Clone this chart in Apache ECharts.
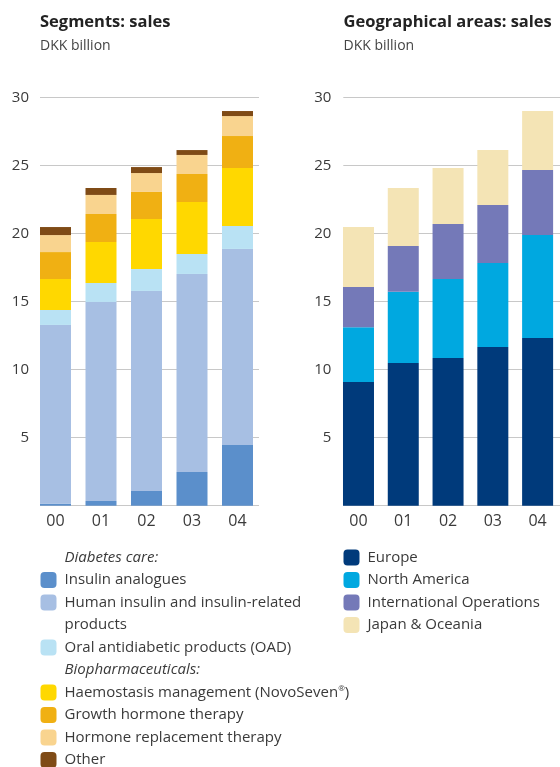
<!DOCTYPE html>
<html>
<head>
<meta charset="utf-8">
<script src="https://cdn.jsdelivr.net/npm/echarts@6/dist/echarts.min.js"></script>
<style>
html,body{margin:0;padding:0;background:#fff;}
#chart{width:560px;height:767px;}
</style>
</head>
<body>
<div id="chart"></div>
<script>
// ---- data ----
const years = ['00', '01', '02', '03', '04'];
const yTicks = [0, 5, 10, 15, 20, 25, 30];

// Segments: sales (DKK billion)
const insulinAnalogues = [0.15, 0.35, 1.08, 2.48, 4.46];
const humanInsulin     = [13.14, 14.63, 14.71, 14.56, 14.42];
const oad              = [1.10, 1.40, 1.61, 1.47, 1.69];
const haemostasis      = [2.28, 3.01, 3.68, 3.82, 4.26];
const growthHormone    = [1.98, 2.06, 1.99, 2.06, 2.35];
const hrt              = [1.25, 1.40, 1.39, 1.40, 1.47];
const otherSales       = [0.59, 0.51, 0.44, 0.36, 0.37];

// Geographical areas: sales (DKK billion)
const europe       = [9.10, 10.49, 10.86, 11.67, 12.33];
const northAmerica = [4.03, 5.25, 5.81, 6.18, 7.57];
const intlOps      = [2.95, 3.36, 4.04, 4.26, 4.78];
const japanOceania = [4.41, 4.26, 4.12, 4.04, 4.34];

const segmentNames = [
  'Insulin analogues',
  'Human insulin and insulin-related products',
  'Oral antidiabetic products (OAD)',
  'Haemostasis management (NovoSeven®)',
  'Growth hormone therapy',
  'Hormone replacement therapy',
  'Other'
];
const segmentValues = [insulinAnalogues, humanInsulin, oad, haemostasis, growthHormone, hrt, otherSales];
const geoNames = ['Europe', 'North America', 'International Operations', 'Japan & Oceania'];
const geoValues = [europe, northAmerica, intlOps, japanOceania];

// ---- styles ----
const FONT = '"Open Sans", "Noto Sans", sans-serif';
const segColors = ['#5b8fcb', '#a7bfe3', '#b9e2f4', '#ffd800', '#f0b013', '#f9d48f', '#7f4b16'];
const geoColors = ['#003a7b', '#00a8e0', '#7479b8', '#f4e4b5'];
const TXT = '#3a3a3a';
const GRID_TOP = 97.7, GRID_H = 408;
const LEG_FS = 15;

const chart = echarts.init(document.getElementById('chart'), null, {renderer: 'canvas'});

function gridAxisY(idx, margin) {
  return {
    gridIndex: idx, type: 'value', min: 0, max: 30, interval: 5,
    axisLine: {show: false}, axisTick: {show: false},
    axisLabel: {show: true, margin: margin, fontFamily: FONT, fontSize: 15, color: TXT,
      formatter: v => (v === 0 ? '' : String(v))},
    splitLine: {show: true, lineStyle: {color: '#c8c8c8', width: 1.2}}
  };
}
function barAxisY(idx) {
  return {gridIndex: idx, type: 'value', min: 0, max: 30, interval: 5, show: false, splitLine: {show: false}};
}
function barAxisX(idx) {
  return {
    gridIndex: idx, type: 'category', data: years,
    axisLine: {show: false}, axisTick: {show: false},
    axisLabel: {margin: 8, fontFamily: FONT, fontSize: 16, color: TXT}
  };
}

const rowY = i => 557.5 + i * 22.5;
const legendText = {fontFamily: FONT, fontSize: LEG_FS, color: TXT, lineHeight: 16, padding: [0, 0, 0, 3],
  rich: {
    t: {fontFamily: FONT, fontSize: LEG_FS, color: TXT, lineHeight: 16},
    s: {fontFamily: FONT, fontSize: 8, color: TXT, lineHeight: 16, verticalAlign: 'top', padding: [0, 0, 5, 0]}
  }};
function legendItem(name, row, left, formatter) {
  return {
    data: [name], orient: 'vertical', left: left, top: rowY(row) - 8, padding: 0,
    itemWidth: 16, itemHeight: 16, icon: 'roundRect', selectedMode: false,
    formatter: formatter || (n => n), textStyle: legendText
  };
}

const series = [];
segmentNames.forEach((n, i) => series.push({
  name: n, type: 'bar', stack: 'seg', xAxisIndex: 1, yAxisIndex: 1, barWidth: 31,
  itemStyle: {color: segColors[i]}, data: segmentValues[i]
}));
geoNames.forEach((n, i) => series.push({
  name: n, type: 'bar', stack: 'geo', xAxisIndex: 3, yAxisIndex: 3, barWidth: 31,
  itemStyle: {color: geoColors[i]}, data: geoValues[i]
}));

const segRows = [1, 2, 4, 6, 7, 8, 9];
const legends = [];
segmentNames.forEach((n, i) => {
  let f = null;
  if (i === 1) f = () => 'Human insulin and insulin-related';
  if (i === 3) f = () => '{t|Haemostasis management (NovoSeven}{s|®}{t|)}';
  legends.push(legendItem(n, segRows[i], 40.5, f));
});
geoNames.forEach((n, i) => legends.push(legendItem(n, i, 343.5)));

function note(text, row, italic) {
  return {type: 'text', x: 64.5, y: rowY(row), style: {text: text,
    font: (italic ? 'italic ' : '') + LEG_FS + 'px ' + FONT, fill: TXT, verticalAlign: 'middle', align: 'left'}};
}

const option = {
  animation: false,
  backgroundColor: '#fff',
  title: [
    {left: 40, top: 14, padding: 0, itemGap: 8, text: 'Segments: sales', subtext: 'DKK billion',
      textStyle: {fontFamily: FONT, fontSize: 16.5, fontWeight: 'bold', color: '#222'},
      subtextStyle: {fontFamily: FONT, fontSize: 14, color: '#444'}},
    {left: 343.5, top: 14, padding: 0, itemGap: 8, text: 'Geographical areas: sales', subtext: 'DKK billion',
      textStyle: {fontFamily: FONT, fontSize: 16.5, fontWeight: 'bold', color: '#222'},
      subtextStyle: {fontFamily: FONT, fontSize: 14, color: '#444'}}
  ],
  grid: [
    {left: 40, top: GRID_TOP, width: 219, height: GRID_H},
    {left: 32.75, top: GRID_TOP, width: 227.5, height: GRID_H},
    {left: 343.3, top: GRID_TOP, width: 216.7, height: GRID_H},
    {left: 336.1, top: GRID_TOP, width: 226, height: GRID_H}
  ],
  xAxis: [
    {gridIndex: 0, type: 'value', show: false, splitLine: {show: false}},
    barAxisX(1),
    {gridIndex: 2, type: 'value', show: false, splitLine: {show: false}},
    barAxisX(3)
  ],
  yAxis: [gridAxisY(0, 11), barAxisY(1), gridAxisY(2, 12), barAxisY(3)],
  legend: legends,
  graphic: [
    note('Diabetes care:', 0, true),
    note('products', 3, false),
    note('Biopharmaceuticals:', 5, true)
  ],
  series: series
};
chart.setOption(option);
</script>
</body>
</html>
